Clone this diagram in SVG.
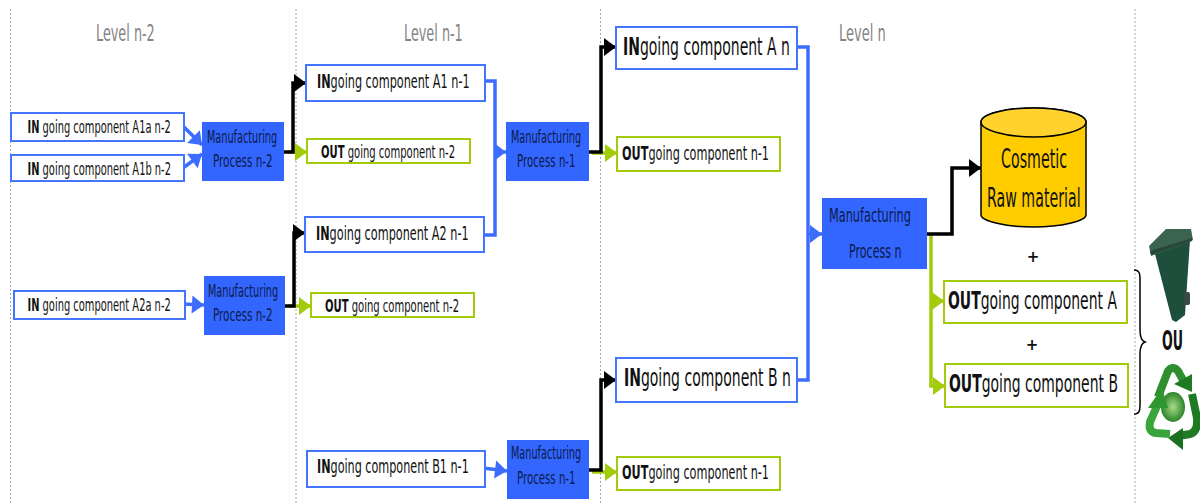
<svg xmlns="http://www.w3.org/2000/svg" width="1200" height="504" viewBox="0 0 1200 504">
<style>
text{font-family:"DejaVu Sans","Liberation Sans",sans-serif;fill:#111}
.b{font-weight:bold}
.lv{font-size:23px;fill:#858585}
.s{font-size:17px}
.m{font-size:20px}
.l{font-size:25px}
.p{font-size:17px;fill:#0c1a4a}
.pn{font-size:19px;fill:#0c1a4a}
.big{font-size:27px}
.in{fill:#fff;stroke:#4475ff;stroke-width:2}
.out{fill:#fff;stroke:#a2cc0a;stroke-width:2}
.mp{fill:#3366ff}
.dot{stroke:#a6a6a6;stroke-width:1;stroke-dasharray:2 2;fill:none}
.cb{fill:none;stroke:#3d6dff;stroke-width:3.500}
.ck{fill:none;stroke:#000;stroke-width:3.500}
.cg{fill:none;stroke:#a2cc0a;stroke-width:3.500}
</style>
<defs>
<marker id="ab" markerUnits="userSpaceOnUse" markerWidth="14" markerHeight="20" refX="13" refY="10" orient="auto"><path d="M1 1L13 10L1 19Z" fill="#3d6dff"/></marker>
<marker id="ak" markerUnits="userSpaceOnUse" markerWidth="14" markerHeight="20" refX="13" refY="10" orient="auto"><path d="M1 1L13 10L1 19Z" fill="#000"/></marker>
<marker id="ag" markerUnits="userSpaceOnUse" markerWidth="14" markerHeight="20" refX="13" refY="10" orient="auto"><path d="M1 1L13 10L1 19Z" fill="#a2cc0a"/></marker>
<radialGradient id="rg" cx="50%" cy="50%" r="55%"><stop offset="0" stop-color="#a8dd88"/><stop offset="1" stop-color="#1f7a1f"/></radialGradient>
</defs>
<g id="guides">
<path class="dot" d="M10.500 9V504M296 9V504M600.500 9V504M1135 9V504"/>
<text class="lv" transform="translate(96 41) scale(.557 1)">Level n-2</text>
<text class="lv" transform="translate(404 41) scale(.557 1)">Level n-1</text>
<text class="lv" transform="translate(839 41) scale(.566 1)">Level n</text>
</g>
<g id="connectors">
<path class="cb" d="M183 126L202 145" marker-end="url(#ab)"/>
<path class="cb" d="M183 168L202 154" marker-end="url(#ab)"/>
<path class="cb" d="M183 304L204 305" marker-end="url(#ab)"/>
<path class="cb" d="M483 468L507 471" marker-end="url(#ab)"/>
<path class="cb" d="M484 81H495V235H483"/>
<path class="cb" d="M495 152H506" marker-end="url(#ab)"/>
<path class="cb" d="M796 47H808V380H796"/>
<path class="cb" d="M808 234H822" marker-end="url(#ab)"/>
<path class="cg" d="M288 152H307" marker-end="url(#ag)"/>
<path class="cg" d="M288 306H311" marker-end="url(#ag)"/>
<path class="cg" d="M592 153H617" marker-end="url(#ag)"/>
<path class="cg" d="M592 472H617" marker-end="url(#ag)"/>
<path class="cg" d="M931 235V386H945" marker-end="url(#ag)"/>
<path class="cg" d="M931 301H944" marker-end="url(#ag)"/>
<path class="ck" d="M283 152H293V83H306" marker-end="url(#ak)"/>
<path class="ck" d="M284 306H294V233H305" marker-end="url(#ak)"/>
<path class="ck" d="M588 152H601V47H616" marker-end="url(#ak)"/>
<path class="ck" d="M588 470H601V380H616" marker-end="url(#ak)"/>
<path class="ck" d="M925 234H952V168H981" marker-end="url(#ak)"/>
<path d="M1134 270C1141 270 1140 276 1140 286V330C1140 338 1142 341 1145 342C1142 343 1140 346 1140 354V398C1140 408 1141 414 1134 414" fill="none" stroke="#000" stroke-width="1.500"/>
</g>
<g id="n-a1a"><rect class="in" x="11" y="113" width="173" height="28"/><text class="s" transform="translate(27.500 133) scale(.582 1)"><tspan class="b">IN</tspan> going component A1a n-2</text></g>
<g id="n-a1b"><rect class="in" x="11" y="155" width="173" height="26"/><text class="s" transform="translate(27.500 175) scale(.582 1)"><tspan class="b">IN</tspan> going component A1b n-2</text></g>
<g id="n-a2a"><rect class="in" x="14" y="291" width="171" height="28"/><text class="s" transform="translate(27.500 311) scale(.582 1)"><tspan class="b">IN</tspan> going component A2a n-2</text></g>
<g id="n-mp1"><rect class="mp" x="202" y="122" width="82" height="59"/><text class="p" transform="translate(207 143) scale(.57 1)">Manufacturing</text><text class="p" transform="translate(213 167) scale(.61 1)">Process n-2</text></g>
<g id="n-mp2"><rect class="mp" x="204" y="276" width="81" height="59"/><text class="p" transform="translate(208 297) scale(.57 1)">Manufacturing</text><text class="p" transform="translate(213 321) scale(.61 1)">Process n-2</text></g>
<g id="n-a1"><rect class="in" x="306" y="65" width="179" height="36"/><text class="m" transform="translate(317 88) scale(.563 1)"><tspan class="b">IN</tspan>going component A1 n-1</text></g>
<g id="n-o1"><rect class="out" x="307" y="139" width="163" height="24"/><text class="s" transform="translate(321 158) scale(.59 1)"><tspan class="b">OUT</tspan> going component n-2</text></g>
<g id="n-a2"><rect class="in" x="305" y="217" width="179" height="35"/><text class="m" transform="translate(316 240) scale(.563 1)"><tspan class="b">IN</tspan>going component A2 n-1</text></g>
<g id="n-o2"><rect class="out" x="311" y="293" width="163" height="24"/><text class="s" transform="translate(325 312) scale(.59 1)"><tspan class="b">OUT</tspan> going component n-2</text></g>
<g id="n-b1"><rect class="in" x="307" y="451" width="178" height="36"/><text class="m" transform="translate(317 473) scale(.56 1)"><tspan class="b">IN</tspan>going component B1 n-1</text></g>
<g id="n-mp3"><rect class="mp" x="506" y="122" width="83" height="59"/><text class="p" transform="translate(511 143) scale(.57 1)">Manufacturing</text><text class="p" transform="translate(517 167) scale(.60 1)">Process n-1</text></g>
<g id="n-mp4"><rect class="mp" x="507" y="440" width="82" height="59"/><text class="p" transform="translate(511 459) scale(.57 1)">Manufacturing</text><text class="p" transform="translate(517 484) scale(.60 1)">Process n-1</text></g>
<g id="n-a"><rect class="in" x="616" y="27" width="181" height="42"/><text class="l" transform="translate(623 55) scale(.56 1)"><tspan class="b">IN</tspan>going component A n</text></g>
<g id="n-o3"><rect class="out" x="617" y="137" width="163" height="34"/><text class="m" transform="translate(622 160) scale(.563 1)"><tspan class="b">OUT</tspan>going component n-1</text></g>
<g id="n-b"><rect class="in" x="616" y="358" width="181" height="44"/><text class="l" transform="translate(624 386) scale(.56 1)"><tspan class="b">IN</tspan>going component B n</text></g>
<g id="n-o4"><rect class="out" x="617" y="457" width="163" height="33"/><text class="m" transform="translate(622 479) scale(.563 1)"><tspan class="b">OUT</tspan>going component n-1</text></g>
<g id="n-mp5"><rect class="mp" x="822" y="198" width="105" height="71"/><text class="pn" transform="translate(829 222) scale(.596 1)">Manufacturing</text><text class="pn" transform="translate(849 258) scale(.583 1)">Process n</text></g>
<g id="n-cylinder">
<path d="M981 122C981 114 1006 108 1033.500 108C1061 108 1086 114 1086 122V215C1086 221 1061 227 1033.500 227C1006 227 981 221 981 215Z" fill="#ffcc00" stroke="#000" stroke-width="1.500"/>
<path d="M981 122C981 130 1006 137 1033.500 137C1061 137 1086 130 1086 122C1086 114 1061 108 1033.500 108C1006 108 981 114 981 122Z" fill="#ffd22e" stroke="#000" stroke-width="1.500"/>
<text class="big" transform="translate(1001 168) scale(.527 1)">Cosmetic</text>
<text class="big" transform="translate(987 207) scale(.526 1)">Raw material</text>
</g>
<g id="n-plus1"><text x="1033" y="262" font-size="15" font-weight="bold" text-anchor="middle">+</text></g>
<g id="n-plus2"><text x="1032" y="350" font-size="15" font-weight="bold" text-anchor="middle">+</text></g>
<g id="n-oa"><rect class="out" x="944" y="281" width="183" height="42"/><text class="l" transform="translate(948 309) scale(.558 1)"><tspan class="b">OUT</tspan>going component A</text></g>
<g id="n-ob"><rect class="out" x="945" y="364" width="183" height="43"/><text class="l" transform="translate(949 392) scale(.558 1)"><tspan class="b">OUT</tspan>going component B</text></g>
<g id="n-ou"><text class="big b" transform="translate(1162 350) scale(.468 1)">OU</text></g>
<g id="n-bin">
<path d="M1155 254L1172 320L1176 322L1185 315L1190 240L1168 246Z" fill="#1e4f3c"/>
<path d="M1149 246L1166 229L1191 229L1193 240L1187 243L1151 256Z" fill="#3a6350"/>
<path d="M1150 251L1192 238L1192 241L1151 255Z" fill="#27483a"/>
<rect x="1184" y="292" width="6" height="13" rx="2" fill="#3a4a42"/>
</g>
<g id="n-recycle">
<ellipse cx="1173" cy="407" rx="12" ry="15" fill="url(#rg)"/>
<path d="M1158 397L1168 371Q1173 365 1178 371L1183 380" fill="none" stroke="#2f8f2f" stroke-width="8"/>
<path d="M1174 384L1192 374L1192 392Z" fill="#1f7a24"/>
<path d="M1192 394L1197 418Q1198 432 1190 434L1178 436" fill="none" stroke="#1f7a24" stroke-width="8"/>
<path d="M1183 428L1168 438L1183 450Z" fill="#1a7020"/>
<path d="M1170 434L1156 433Q1148 432 1150 422L1158 404" fill="none" stroke="#39a53a" stroke-width="8"/>
<path d="M1148 408L1162 388L1168 408Z" fill="#2f952f"/>
</g>
</svg>
